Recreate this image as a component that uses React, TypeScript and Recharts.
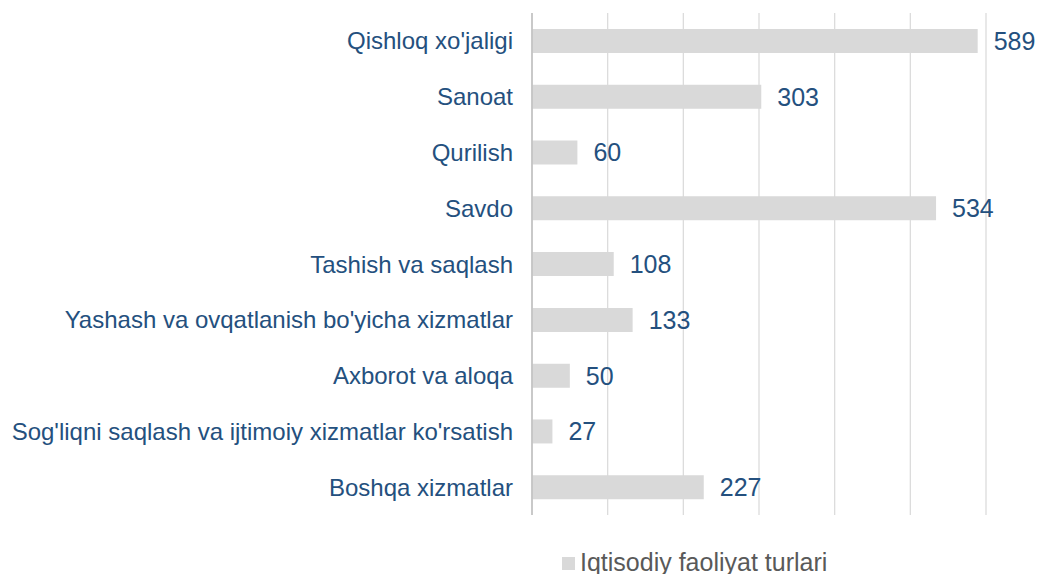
import React from "react";
import { BarChart, Bar, XAxis, YAxis, CartesianGrid, LabelList, Legend } from "recharts";

const categories = [
  "Qishloq xo'jaligi",
  "Sanoat",
  "Qurilish",
  "Savdo",
  "Tashish va saqlash",
  "Yashash va ovqatlanish bo'yicha xizmatlar",
  "Axborot va aloqa",
  "Sog'liqni saqlash va ijtimoiy xizmatlar ko'rsatish",
  "Boshqa xizmatlar",
];
const values = [589, 303, 60, 534, 108, 133, 50, 27, 227];
const xTicks = [0, 100, 200, 300, 400, 500, 600];
const seriesName = "Iqtisodiy faoliyat turlari";

const data = categories.map((c, i) => ({ name: c, value: values[i] }));

const FONT = "'Liberation Sans', Arial, sans-serif";
const BLUE = "#24507e";

const LegendContent = () => (
  <div style={{ display: "flex", alignItems: "flex-start", fontFamily: FONT, fontSize: 25, lineHeight: "25px", color: "#595959", whiteSpace: "nowrap" }}>
    <span style={{ display: "inline-block", width: 13, height: 13, background: "#d9d9d9", marginTop: 7, marginRight: 5 }} />
    <span>{seriesName}</span>
  </div>
);

const EmptyTick = () => <g />;

export default function App() {
  return (
    <div style={{ position: "absolute", left: 0, top: 0 }}>
      <BarChart
        width={1051}
        height={574}
        data={data}
        layout="vertical"
        margin={{ top: 13, right: 65, bottom: 59, left: 12 }}
        barSize={24}
      >
        <CartesianGrid horizontal={false} stroke="#dcdcdc" strokeWidth={1.3} />
        <XAxis
          type="number"
          domain={[0, 600]}
          ticks={xTicks}
          tick={<EmptyTick />}
          axisLine={false}
          tickLine={false}
          height={0}
        />
        <YAxis
          type="category"
          dataKey="name"
          width={520}
          tickSize={0}
          tickMargin={19}
          tickLine={false}
          axisLine={{ stroke: "#bfbfbf", strokeWidth: 1.5 }}
          tick={{ fill: BLUE, fontSize: 24, fontFamily: FONT }}
          interval={0}
        />
        <Legend
          layout="horizontal"
          verticalAlign="middle"
          align="center"
          content={<LegendContent />}
          wrapperStyle={{ left: 562, top: 550, width: 330, height: 26 }}
        />
        <Bar dataKey="value" name={seriesName} fill="#d9d9d9" isAnimationActive={false}>
          <LabelList dataKey="value" position="right" offset={16} fill={BLUE} fontSize={25} fontFamily={FONT} />
        </Bar>
      </BarChart>
    </div>
  );
}
